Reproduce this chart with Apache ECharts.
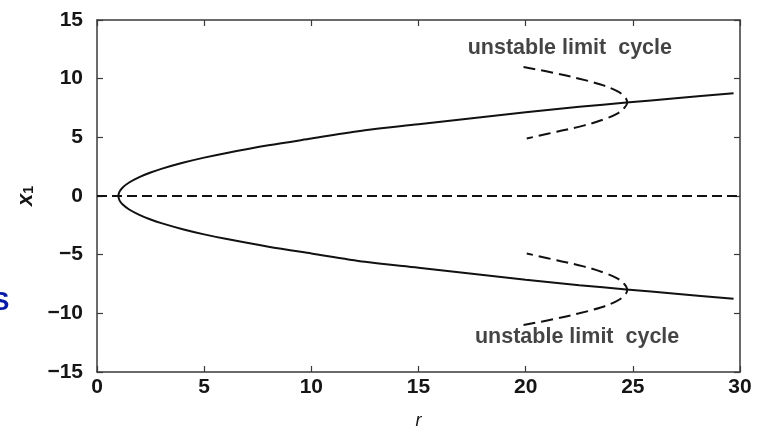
<!DOCTYPE html>
<html>
<head>
<meta charset="utf-8">
<script src="https://cdn.jsdelivr.net/npm/echarts@6/dist/echarts.min.js"></script>
<style>
  html, body { margin: 0; padding: 0; background: #fff; }
  #chart { width: 765px; height: 435px; }
</style>
</head>
<body>
<div id="chart"></div>
<script>
// stable fixed points (lower branch -> vertex -> upper branch)
var rStable = [29.7, 27, 24.7, 22.5, 20, 17.5, 15, 12.5, 10, 8, 6, 5, 4, 3, 2.5, 2, 1.5, 1.2, 1.05, 1,
               1.05, 1.2, 1.5, 2, 2.5, 3, 4, 5, 6, 8, 10, 12.5, 15, 17.5, 20, 22.5, 24.7, 27, 29.7];
var x1Stable = [-8.75, -8.33, -7.96, -7.6, -7.14, -6.63, -6.11, -5.61, -4.9, -4.32, -3.65, -3.27, -2.83, -2.31, -2.0, -1.63, -1.15, -0.73, -0.37, 0,
                0.37, 0.73, 1.15, 1.63, 2.0, 2.31, 2.83, 3.27, 3.65, 4.32, 4.9, 5.61, 6.11, 6.63, 7.14, 7.6, 7.96, 8.33, 8.75];

// unstable limit cycle (upper one); lower one is its mirror in the picture
var rCycle = [19.9, 21.3, 22.5, 23.5, 24.2, 24.6, 24.74, 24.6, 24.25, 23.6, 22.7, 21.5, 20.05];
var x1CycleUp = [11.0, 10.5, 10.0, 9.5, 9.0, 8.5, 7.96, 7.5, 7.0, 6.5, 6.0, 5.5, 4.9];
var x1CycleDown = [-11.0, -10.5, -10.0, -9.5, -9.0, -8.5, -7.96, -7.5, -7.0, -6.5, -6.0, -5.5, -4.9];

// unstable origin
var rZero = [0, 30];
var x1Zero = [0, 0];

var xTicks = [0, 5, 10, 15, 20, 25, 30];
var yTicks = [-15, -10, -5, 0, 5, 10, 15];

// annotation anchors
var labelText = 'unstable limit  cycle';
var labelTop = [22.06, 12.64];
var labelBottom = [22.4, -12.05];

function pairs(xs, ys) {
  var out = [];
  for (var i = 0; i < xs.length; i++) out.push([xs[i], ys[i]]);
  return out;
}

var FONT = '"Liberation Sans", Arial, sans-serif';
var axisColor = '#3a3a3a';
var textColor = '#151515';

var chart = echarts.init(document.getElementById('chart'));

var baseAxisLine = { show: true, onZero: false, lineStyle: { color: axisColor, width: 1.5 } };
var baseTick = { show: true, inside: true, length: 6, lineStyle: { color: axisColor, width: 1.2 } };

var option = {
  backgroundColor: '#fff',
  animation: false,
  grid: { left: 97, right: 25, top: 20, bottom: 60, containLabel: false },
  graphic: [{
    type: 'text', left: -8, top: 290,
    style: { text: 'S', fontSize: 26, fontWeight: 'bold', fontFamily: FONT, fill: '#0a1aa8' }
  }],
  xAxis: [{
    type: 'value', min: xTicks[0], max: xTicks[xTicks.length - 1], interval: 5,
    position: 'bottom',
    axisLine: baseAxisLine, axisTick: baseTick, splitLine: { show: false },
    axisLabel: { fontSize: 21, fontWeight: 'bold', color: textColor, fontFamily: FONT, margin: 5 },
    name: 'r', nameLocation: 'middle', nameGap: 40,
    nameTextStyle: { fontSize: 18, fontStyle: 'italic', color: textColor, fontFamily: FONT }
  }, {
    type: 'value', min: xTicks[0], max: xTicks[xTicks.length - 1], interval: 5,
    position: 'top',
    axisLine: baseAxisLine, axisTick: baseTick, splitLine: { show: false },
    axisLabel: { show: false }
  }],
  yAxis: [{
    type: 'value', min: yTicks[0], max: yTicks[yTicks.length - 1], interval: 5,
    position: 'left',
    axisLine: baseAxisLine, axisTick: baseTick, splitLine: { show: false },
    axisLabel: {
      fontSize: 21, fontWeight: 'bold', color: textColor, fontFamily: FONT, margin: 14,
      formatter: function (v) { return String(v).replace('-', '\u2212'); }
    },
    name: '{x|x}{s|1}', nameLocation: 'middle', nameGap: 56, nameRotate: 90,
    nameTextStyle: {
      color: textColor, fontFamily: FONT,
      rich: {
        x: { fontSize: 22, fontStyle: 'italic', fontWeight: 'bold', color: textColor, fontFamily: FONT },
        s: { fontSize: 14, fontWeight: 'bold', color: textColor, fontFamily: FONT, verticalAlign: 'bottom', padding: [8, 0, 0, 0] }
      }
    }
  }, {
    type: 'value', min: yTicks[0], max: yTicks[yTicks.length - 1], interval: 5,
    position: 'right',
    axisLine: baseAxisLine, axisTick: baseTick, splitLine: { show: false },
    axisLabel: { show: false }
  }],
  series: [{
    name: 'origin', type: 'line', data: pairs(rZero, x1Zero),
    symbol: 'none', lineStyle: { color: '#111', width: 2, type: [10, 5] }
  }, {
    name: 'stable', type: 'line', data: pairs(rStable, x1Stable),
    symbol: 'none', smooth: 0.3, lineStyle: { color: '#111', width: 2 }
  }, {
    name: 'cycleUp', type: 'line', data: pairs(rCycle, x1CycleUp),
    symbol: 'none', smooth: 0.4, lineStyle: { color: '#111', width: 2, type: [12, 6] }
  }, {
    name: 'cycleDown', type: 'line', data: pairs(rCycle, x1CycleDown),
    symbol: 'none', smooth: 0.4, lineStyle: { color: '#111', width: 2, type: [12, 6] }
  }, {
    name: 'labels', type: 'scatter', symbolSize: 1, itemStyle: { color: 'rgba(0,0,0,0)' },
    data: [labelTop, labelBottom],
    label: {
      show: true, position: 'inside', formatter: labelText,
      fontSize: 21.5, fontWeight: 'bold', color: textColor, fontFamily: FONT
    },
    silent: true
  }]
};

chart.setOption(option);
</script>
</body>
</html>
